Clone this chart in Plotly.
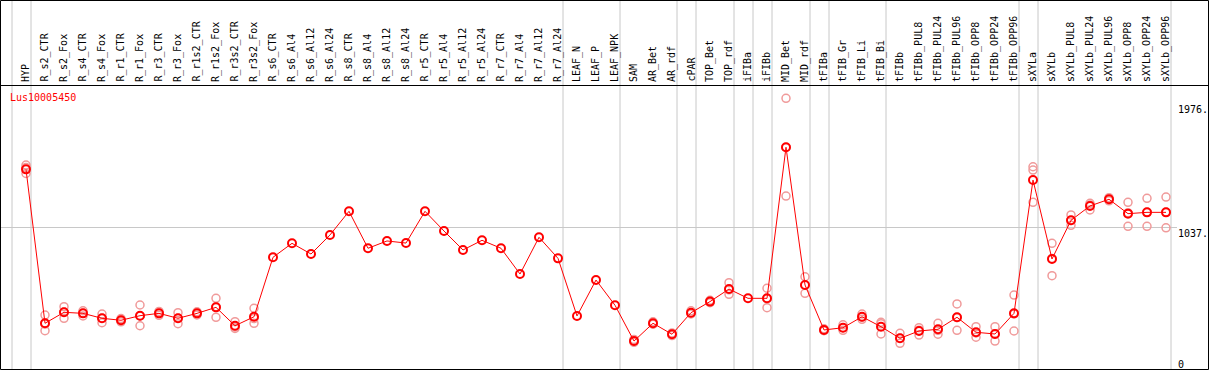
import plotly.graph_objects as go

categories = ["HYP", "R_s2_CTR", "R_s2_Fox", "R_s4_CTR", "R_s4_Fox", "R_r1_CTR", "R_r1_Fox",
              "R_r3_CTR", "R_r3_Fox", "R_r1s2_CTR", "R_r1s2_Fox", "R_r3s2_CTR", "R_r3s2_Fox",
              "R_s6_CTR", "R_s6_Al4", "R_s6_Al12", "R_s6_Al24", "R_s8_CTR", "R_s8_Al4", "R_s8_Al12",
              "R_s8_Al24", "R_r5_CTR", "R_r5_Al4", "R_r5_Al12", "R_r5_Al24", "R_r7_CTR", "R_r7_Al4",
              "R_r7_Al12", "R_r7_Al24", "LEAF_N", "LEAF_P", "LEAF_NPK", "SAM", "AR_Bet", "AR_rdf",
              "cPAR", "TOP_Bet", "TOP_rdf", "iFIBa", "iFIBb", "MID_Bet", "MID_rdf", "tFIBa",
              "tFIB_Gr", "tFIB_Li", "tFIB_Bi", "tFIBb", "tFIBb_PUL8", "tFIBb_PUL24", "tFIBb_PUL96",
              "tFIBb_OPP8", "tFIBb_OPP24", "tFIBb_OPP96", "sXYLa", "sXYLb", "sXYLb_PUL8",
              "sXYLb_PUL24", "sXYLb_PUL96", "sXYLb_OPP8", "sXYLb_OPP24", "sXYLb_OPP96"]

means = [1482, 304, 388, 380, 342, 327, 362, 380, 342, 380, 426, 285, 354,
         809, 916, 834, 980, 1161, 878, 934, 918, 1161, 1010, 865, 939, 878, 681, 962, 801,
         360, 635, 442, 168, 304, 220, 385, 470, 566, 495, 495, 1651, 597, 253, 270, 354, 278,
         189, 245, 258, 350, 235, 222, 380, 1400, 796, 1092, 1202, 1253, 1143, 1153, 1153]

N = None
rep_hi = [1515, 367, 431, 400, 375, 340, 444, 395, 385, 392, 495, 316, 419,
          N, N, N, N, N, N, N, N, N, N, N, N, N, N, N, N, N, N, N,
          180, 315, 230, 400, 480, 615, N, 572, 2026, 660, 262, 292, 375, 311,
          227, 270, 304, 452, 278, 278, 520, 1502, 916, 1133, 1222, 1265, 1230, 1260, 1270]
rep_mid = [1497, 298, 390, 380, 342, 327, 360, 380, 342, 380, 430, 275, 340,
           N, N, N, N, N, N, N, N, N, N, N, N, N, N, N, N, N, N, N,
           165, 300, 220, 380, 468, 560, N, 490, 1650, 597, 250, 270, 350, 300,
           189, 250, 250, 348, 230, 220, 375, 1477, 800, 1090, 1210, 1253, 1150, 1153, 1153]
rep_lo = [1451, 247, 342, 360, 308, 315, 285, 365, 301, 368, 350, 265, 304,
          N, N, N, N, N, N, N, N, N, N, N, N, N, N, N, N, N, N, N,
          158, 297, 210, 375, 462, 526, N, 423, 1278, 533, 247, 250, 334, 222,
          151, 214, 220, 250, 197, 168, 245, 1230, 668, 1054, 1171, 1241, 1046, 1046, 1035]

# group separators (after category index)
separators_after = [-1, 0, 28, 31, 34, 35, 37, 38, 39, 41, 42, 45, 52, 53, 60]
ytick_vals = [1976, 1037, 0]
ytick_text = ["1976.", "1037.", "0"]
gene_id = "Lus10005450"

W, H = 1209, 370
ML, MR, MT, MB = 1, 1, 85, 1
X0, DX = 26, 19          # pixel position of first category and spacing
Y0, PPU = 363, 0.13066   # pixel of value 0 and pixels per unit


def xp(p):
    return (p - ML) / (W - ML - MR)


def yp(p):
    return (H - MB - p) / (H - MT - MB)


xrange = [(ML - X0) / DX, (W - MR - X0) / DX]
yrange = [(Y0 - (H - MB)) / PPU, (Y0 - MT) / PPU]

xs = list(range(len(categories)))
rx, ry = [], []
for reps in (rep_hi, rep_mid, rep_lo):
    for i, v in enumerate(reps):
        if v is not None:
            rx.append(i)
            ry.append(v)

fig = go.Figure()
fig.add_trace(go.Scatter(x=rx, y=ry, mode="markers",
                         marker=dict(symbol="circle-open", size=8, color="#f09a9a",
                                     line=dict(width=1.5, color="#f09a9a")),
                         hoverinfo="skip", showlegend=False))
fig.add_trace(go.Scatter(x=xs, y=means, mode="lines+markers",
                         line=dict(color="#ff0000", width=1),
                         marker=dict(symbol="circle-open", size=8, color="#ff0000",
                                     line=dict(width=2, color="#ff0000")),
                         showlegend=False))

shapes = []
gridc = "#c8c8c8"
for s in separators_after:
    gx = X0 + DX * s + 5
    shapes.append(dict(type="line", xref="paper", yref="paper", x0=xp(gx), x1=xp(gx),
                       y0=yp(H), y1=yp(0), line=dict(color=gridc, width=1), layer="below"))
# horizontal gridline
shapes.append(dict(type="line", xref="paper", yref="y", x0=xp(0), x1=xp(1177),
                   y0=ytick_vals[1], y1=ytick_vals[1], line=dict(color=gridc, width=1), layer="below"))
# header separator and frame
shapes.append(dict(type="line", xref="paper", yref="paper", x0=xp(0), x1=xp(W),
                   y0=yp(85.5), y1=yp(85.5), line=dict(color="black", width=1)))
shapes.append(dict(type="rect", xref="paper", yref="paper", x0=xp(0.5), x1=xp(W - 0.5),
                   y0=yp(H - 0.5), y1=yp(0.5), line=dict(color="black", width=1)))

font = "DejaVu Sans Mono"
annotations = []
for i, c in enumerate(categories):
    annotations.append(dict(x=i, xref="x", y=yp(84), yref="paper", text=c, textangle=-90,
                            xanchor="center", yanchor="bottom", showarrow=False,
                            font=dict(family=font, size=10, color="black")))
annotations.append(dict(x=xp(8), xref="paper", y=yp(97), yref="paper", text=gene_id,
                        xanchor="left", yanchor="middle", showarrow=False,
                        font=dict(family=font, size=10, color="#ff0000")))
shifts = [3, 2, 6]
for v, t, sh in zip(ytick_vals, ytick_text, shifts):
    annotations.append(dict(x=xp(1176), xref="paper", y=v, yref="y", text=t, yshift=sh,
                            xanchor="left", yanchor="top", showarrow=False,
                            font=dict(family=font, size=10, color="black")))

fig.update_layout(
    width=W, height=H,
    margin=dict(l=ML, r=MR, t=MT, b=MB, pad=0),
    paper_bgcolor="white", plot_bgcolor="white",
    xaxis=dict(range=xrange, showgrid=False, zeroline=False, showticklabels=False,
               showline=False, fixedrange=True),
    yaxis=dict(range=yrange, showgrid=False, zeroline=False, showticklabels=False,
               showline=False, fixedrange=True),
    shapes=shapes, annotations=annotations, showlegend=False,
)

fig.write_html("out.html", config={"displayModeBar": False},
               post_script="document.body.style.margin='0';document.body.style.overflow='hidden';")
